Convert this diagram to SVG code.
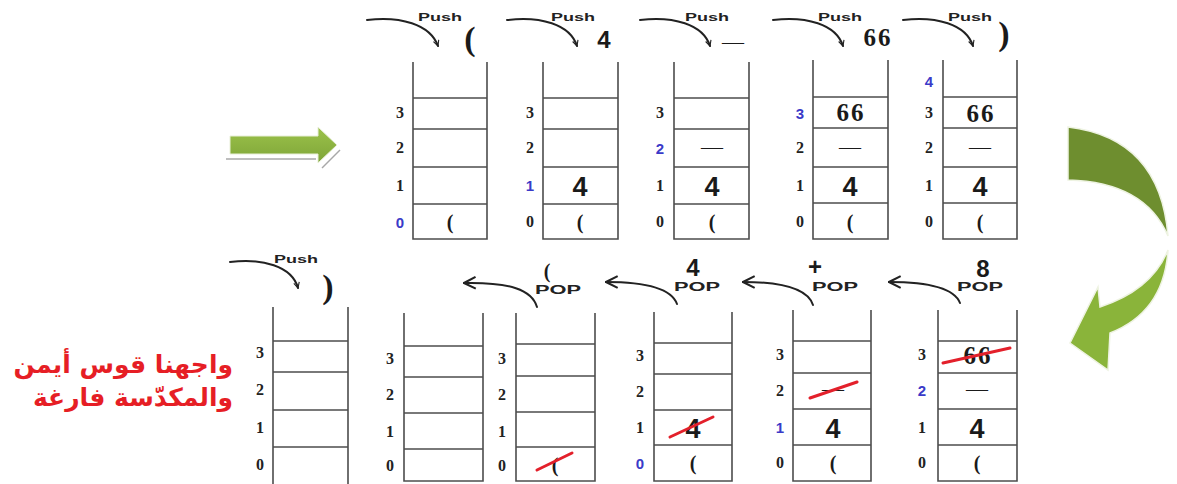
<svg xmlns="http://www.w3.org/2000/svg" width="1177" height="484" viewBox="0 0 1177 484">
<style>
.wall{fill:none;stroke:#4d4d4d;stroke-width:1.6}
.idx{font-family:"Liberation Serif",serif;font-weight:bold;font-size:16px;fill:#222;text-anchor:middle}
.idxb{font-family:"Liberation Sans",sans-serif;font-weight:bold;font-size:15px;fill:#3a3ac8;text-anchor:middle}
.num{font-family:"Liberation Sans",sans-serif;font-weight:bold;font-size:27px;fill:#1a1a1a;text-anchor:middle}
.par{font-family:"Liberation Serif",serif;font-weight:bold;font-size:20px;fill:#1a1a1a;text-anchor:middle}
.six{font-family:"Liberation Serif",serif;font-weight:bold;font-size:25px;fill:#1a1a1a;text-anchor:middle;letter-spacing:2px}
.dash{font-family:"Liberation Serif",serif;font-size:22px;fill:#1a1a1a;text-anchor:middle}
.push{font-family:"Liberation Sans",sans-serif;font-weight:bold;font-size:11px;fill:#222;text-anchor:middle}
.pop{font-family:"Liberation Sans",sans-serif;font-weight:bold;font-size:12px;fill:#222;text-anchor:middle}
.big{font-family:"Liberation Sans",sans-serif;font-weight:bold;font-size:24px;fill:#1a1a1a;text-anchor:middle}
.bigp{font-family:"Liberation Serif",serif;font-weight:bold;font-size:34px;fill:#1a1a1a;text-anchor:middle}
.curve{fill:none;stroke:#222;stroke-width:2;stroke-linecap:round}
.strike{stroke:#e3202b;stroke-width:3;stroke-linecap:round}
.ar{font-family:"DejaVu Sans",sans-serif;font-weight:bold;font-size:25px;fill:#e61e25;text-anchor:end}
</style>
<defs>
<marker id="hd" viewBox="0 0 10 10" refX="9" refY="5" markerWidth="7" markerHeight="7" orient="auto" markerUnits="userSpaceOnUse">
<path d="M1,1 L9,5 L1,9" fill="none" stroke="#222" stroke-width="1.6"/>
</marker>
<marker id="hp" viewBox="0 0 12 12" refX="11" refY="6" markerWidth="14" markerHeight="14" orient="auto" markerUnits="userSpaceOnUse">
<path d="M1,1 L11,6 L1,11" fill="none" stroke="#222" stroke-width="1.8"/>
</marker>
<linearGradient id="g1" x1="0" y1="0" x2="0" y2="1">
<stop offset="0" stop-color="#9cc24a"/><stop offset="1" stop-color="#7ea538"/>
</linearGradient>
</defs>

<g id="arrow-right">
<path d="M230,136 H318 V127 L337,145 L318,163 V154 H230 Z" fill="url(#g1)" stroke="#e8efd8" stroke-width="1"/>
<path d="M226,159 H316" stroke="#a8a8a8" stroke-width="1.5"/>
<path d="M322,168 L340,150" stroke="#a8a8a8" stroke-width="1.5"/>
</g>
<g id="arrow-turn">
<path d="M1068,127 Q1160,138 1168,236 Q1145,182 1068,180 Z" fill="#6e8e2f" stroke="#eef3e2" stroke-width="1.5"/>
<path d="M1168,250 Q1164,312 1110,333 L1108,370 L1070,343 L1098,287 L1100,307 Q1152,290 1168,250 Z" fill="#8ab43a" stroke="#eef3e2" stroke-width="1.5"/>
</g>

<g id="connectors">
<path class="curve" d="M367,20 C400,16 430,24 438,46" marker-end="url(#hd)"/>
<path class="curve" d="M507,20 C540,16 570,24 577,46" marker-end="url(#hd)"/>
<path class="curve" d="M640,20 C673,16 703,24 710,46" marker-end="url(#hd)"/>
<path class="curve" d="M773,20 C806,16 836,24 843,46" marker-end="url(#hd)"/>
<path class="curve" d="M903,20 C936,16 966,24 973,46" marker-end="url(#hd)"/>
<path class="curve" d="M230,262 C262,258 292,266 298,288" marker-end="url(#hd)"/>
<path class="curve" d="M537,307 C532,290 510,282 464,283" marker-end="url(#hp)"/>
<path class="curve" d="M677,304 C672,290 650,282 606,282" marker-end="url(#hp)"/>
<path class="curve" d="M813,305 C808,290 786,282 743,282" marker-end="url(#hp)"/>
<path class="curve" d="M960,303 C955,290 933,282 889,282" marker-end="url(#hp)"/>
</g>

<g id="labels-top">
<text class="push" x="440" y="21" textLength="44" lengthAdjust="spacingAndGlyphs">Push</text>
<text class="bigp" x="470" y="50">(</text>
<text class="push" x="573" y="21" textLength="44" lengthAdjust="spacingAndGlyphs">Push</text>
<text class="big" x="604" y="48">4</text>
<text class="push" x="707" y="21" textLength="44" lengthAdjust="spacingAndGlyphs">Push</text>
<text class="dash" x="733" y="49">—</text>
<text class="push" x="840" y="21" textLength="44" lengthAdjust="spacingAndGlyphs">Push</text>
<text class="six" x="878" y="46">66</text>
<text class="push" x="970" y="21" textLength="44" lengthAdjust="spacingAndGlyphs">Push</text>
<text class="bigp" x="1004" y="45">)</text>
</g>
<g id="labels-bottom">
<text class="push" x="296" y="263" textLength="44" lengthAdjust="spacingAndGlyphs">Push</text>
<text class="bigp" x="328" y="298">)</text>
<text class="par" x="547" y="278" font-size="16">(</text>
<text class="pop" x="558" y="294" textLength="46" lengthAdjust="spacingAndGlyphs">POP</text>
<text class="big" x="693" y="276">4</text>
<text class="pop" x="697" y="291" textLength="46" lengthAdjust="spacingAndGlyphs">POP</text>
<text class="big" x="815" y="275" font-weight="normal">+</text>
<text class="pop" x="835" y="291" textLength="46" lengthAdjust="spacingAndGlyphs">POP</text>
<text class="big" x="983" y="277" font-size="26">8</text>
<text class="pop" x="980" y="291" textLength="46" lengthAdjust="spacingAndGlyphs">POP</text>
</g>

<g id="stack-t1">
<path class="wall" d="M413,62 V239 H487 V62 M413,98 H487 M413,129 H487 M413,167 H487 M413,204 H487"/>
<text class="idx" x="400" y="118">3</text><text class="idx" x="400" y="153">2</text><text class="idx" x="400" y="191">1</text><text class="idxb" x="400" y="228">0</text>
<text class="par" x="450" y="229">(</text>
</g>
<g id="stack-t2">
<path class="wall" d="M543,62 V239 H618 V62 M543,98 H618 M543,129 H618 M543,167 H618 M543,204 H618"/>
<text class="idx" x="530" y="118">3</text><text class="idx" x="530" y="153">2</text><text class="idxb" x="530" y="191">1</text><text class="idx" x="530" y="227">0</text>
<text class="num" x="580" y="196">4</text>
<text class="par" x="580" y="229">(</text>
</g>
<g id="stack-t3">
<path class="wall" d="M674,62 V239 H749 V62 M674,98 H749 M674,129 H749 M674,167 H749 M674,204 H749"/>
<text class="idx" x="660" y="118">3</text><text class="idxb" x="660" y="154">2</text><text class="idx" x="660" y="191">1</text><text class="idx" x="660" y="227">0</text>
<text class="dash" x="712" y="154">—</text>
<text class="num" x="712" y="196">4</text>
<text class="par" x="712" y="229">(</text>
</g>
<g id="stack-t4">
<path class="wall" d="M813,60 V239 H888 V60 M813,97 H888 M813,128 H888 M813,167 H888 M813,203 H888"/>
<text class="idxb" x="800" y="119">3</text><text class="idx" x="800" y="153">2</text><text class="idx" x="800" y="191">1</text><text class="idx" x="800" y="227">0</text>
<text class="six" x="851" y="121">66</text>
<text class="dash" x="850" y="154">—</text>
<text class="num" x="850" y="196">4</text>
<text class="par" x="850" y="229">(</text>
</g>
<g id="stack-t5">
<path class="wall" d="M943,60 V239 H1017 V60 M943,97 H1017 M943,128 H1017 M943,167 H1017 M943,203 H1017"/>
<text class="idxb" x="929" y="87">4</text>
<text class="idx" x="929" y="118">3</text><text class="idx" x="929" y="153">2</text><text class="idx" x="929" y="191">1</text><text class="idx" x="929" y="227">0</text>
<text class="six" x="981" y="122">66</text>
<text class="dash" x="980" y="154">—</text>
<text class="num" x="980" y="196">4</text>
<text class="par" x="980" y="229">(</text>
</g>

<g id="stack-b1">
<path class="wall" d="M273,307 V486 M348,307 V486 M273,341 H348 M273,372 H348 M273,410 H348 M273,447 H348"/>
<text class="idx" x="260" y="358">3</text><text class="idx" x="260" y="395">2</text><text class="idx" x="260" y="433">1</text><text class="idx" x="260" y="470">0</text>
</g>
<g id="stack-b2">
<path class="wall" d="M404,313 V481 H483 V313 M404,346 H483 M404,377 H483 M404,413 H483 M404,449 H483"/>
<text class="idx" x="390" y="364">3</text><text class="idx" x="390" y="400">2</text><text class="idx" x="390" y="437">1</text><text class="idx" x="390" y="471">0</text>
</g>
<g id="stack-b3">
<path class="wall" d="M516,313 V481 H595 V313 M516,344 H595 M516,376 H595 M516,412 H595 M516,447 H595"/>
<text class="idx" x="502" y="364">3</text><text class="idx" x="502" y="400">2</text><text class="idx" x="502" y="437">1</text><text class="idx" x="502" y="471">0</text>
<text class="par" x="555" y="472">(</text>
<line class="strike" x1="537" y1="470" x2="572" y2="453"/>
</g>
<g id="stack-b4">
<path class="wall" d="M654,312 V481 H732 V312 M654,343 H732 M654,374 H732 M654,410 H732 M654,445 H732"/>
<text class="idx" x="640" y="361">3</text><text class="idx" x="640" y="397">2</text><text class="idx" x="640" y="433">1</text><text class="idxb" x="640" y="469">0</text>
<text class="num" x="693" y="438">4</text>
<text class="par" x="693" y="470">(</text>
<line class="strike" x1="670" y1="437" x2="713" y2="417"/>
</g>
<g id="stack-b5">
<path class="wall" d="M793,310 V481 H871 V310 M793,341 H871 M793,373 H871 M793,409 H871 M793,445 H871"/>
<text class="idx" x="780" y="360">3</text><text class="idx" x="780" y="396">2</text><text class="idxb" x="780" y="433">1</text><text class="idx" x="780" y="468">0</text>
<text class="dash" x="833" y="396">—</text>
<line class="strike" x1="810" y1="398" x2="857" y2="382"/>
<text class="num" x="833" y="438">4</text>
<text class="par" x="833" y="470">(</text>
</g>
<g id="stack-b6">
<path class="wall" d="M938,310 V481 H1017 V310 M938,341 H1017 M938,373 H1017 M938,409 H1017 M938,445 H1017"/>
<text class="idx" x="922" y="360">3</text><text class="idxb" x="922" y="396">2</text><text class="idx" x="922" y="433">1</text><text class="idx" x="922" y="468">0</text>
<text class="six" x="978" y="364">66</text>
<line class="strike" x1="943" y1="363" x2="1010" y2="348"/>
<text class="dash" x="977" y="396">—</text>
<text class="num" x="977" y="438">4</text>
<text class="par" x="977" y="470">(</text>
</g>

<g id="note">
<text class="ar" x="233" y="373">واجهنا قوس أيمن</text>
<text class="ar" x="233" y="406">والمكدّسة فارغة</text>
</g>
</svg>
